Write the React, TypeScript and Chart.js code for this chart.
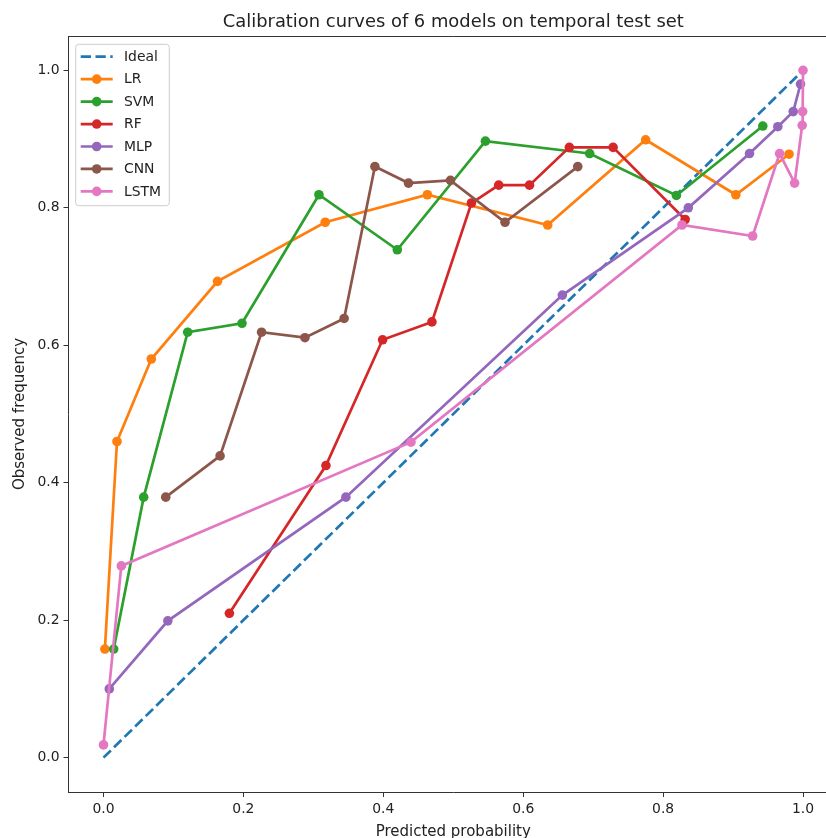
import React, { useEffect, useRef } from 'react';
import { Chart, registerables } from 'chart.js';

Chart.register(...registerables);

const chartTitle = 'Calibration curves of 6 models on temporal test set';
const xAxisLabel = 'Predicted probability';
const yAxisLabel = 'Observed frequency';

const idealX = [0, 1];
const idealY = [0, 1];

const lrX = [0.002, 0.0193, 0.0684, 0.163, 0.317, 0.463, 0.635, 0.775, 0.904, 0.98];
const lrY = [0.158, 0.46, 0.58, 0.693, 0.779, 0.819, 0.775, 0.899, 0.819, 0.878];

const svmX = [0.0146, 0.0575, 0.1204, 0.198, 0.308, 0.42, 0.546, 0.695, 0.819, 0.9425];
const svmY = [0.158, 0.379, 0.619, 0.632, 0.819, 0.739, 0.897, 0.879, 0.818, 0.919];

const rfX = [0.18, 0.318, 0.399, 0.4695, 0.526, 0.565, 0.609, 0.666, 0.7285, 0.8315];
const rfY = [0.21, 0.425, 0.608, 0.634, 0.807, 0.833, 0.833, 0.888, 0.888, 0.783];

const mlpX = [0.0083, 0.092, 0.3465, 0.656, 0.836, 0.9235, 0.964, 0.986, 0.9964];
const mlpY = [0.1, 0.199, 0.379, 0.673, 0.8, 0.879, 0.918, 0.94, 0.98];

const cnnX = [0.089, 0.1667, 0.226, 0.288, 0.344, 0.388, 0.436, 0.496, 0.574, 0.678];
const cnnY = [0.379, 0.439, 0.619, 0.611, 0.639, 0.86, 0.836, 0.84, 0.779, 0.86];

const lstmX = [0.0, 0.0255, 0.4395, 0.827, 0.928, 0.9665, 0.988, 0.9988, 0.9995, 1.0];
const lstmY = [0.0185, 0.279, 0.459, 0.775, 0.759, 0.879, 0.836, 0.92, 0.94, 1.0];

const xTicks = [0, 0.2, 0.4, 0.6, 0.8, 1.0];
const yTicks = [0, 0.2, 0.4, 0.6, 0.8, 1.0];

const legendNames = ['Ideal', 'LR', 'SVM', 'RF', 'MLP', 'CNN', 'LSTM'];
const colors = ['#1f77b4', '#ff7f0e', '#2ca02c', '#d62728', '#9467bd', '#8c564b', '#e377c2'];

const zip = (xs: number[], ys: number[]) => xs.map((x, i) => ({ x, y: ys[i] }));

const FONT = '"DejaVu Sans", sans-serif';
const LW = 2.7;
const PR = 4.8;
const CANVAS_W = 880;
const CANVAS_H = 838;

const decorations = {
  id: 'decorations',
  afterDraw(chart: any) {
    const { ctx, chartArea, scales } = chart;
    const xs = scales.x;
    const cx = xs.getPixelForValue(0.5);
    ctx.save();
    // top and right spines
    ctx.strokeStyle = '#333';
    ctx.lineWidth = 1;
    ctx.beginPath();
    ctx.moveTo(chartArea.left, chartArea.top + 0.5);
    ctx.lineTo(chartArea.right, chartArea.top + 0.5);
    ctx.lineTo(chartArea.right, chartArea.bottom);
    ctx.stroke();

    ctx.fillStyle = '#222';
    ctx.textAlign = 'center';
    ctx.textBaseline = 'middle';
    ctx.font = `17.9px ${FONT}`;
    ctx.fillText(chartTitle, cx, 22);

    ctx.font = `15px ${FONT}`;
    ctx.textBaseline = 'alphabetic';
    ctx.fillText(xAxisLabel, cx, 836);

    ctx.save();
    ctx.translate(20, (chartArea.top + chartArea.bottom) / 2);
    ctx.rotate(-Math.PI / 2);
    ctx.textBaseline = 'middle';
    ctx.fillText(yAxisLabel, 0, 0);
    ctx.restore();

    // legend
    const bx = 75.7, by = 44.3, bw = 93.6, bh = 161.4;
    ctx.beginPath();
    (ctx as any).roundRect(bx, by, bw, bh, 3);
    ctx.fillStyle = 'rgba(255,255,255,0.8)';
    ctx.fill();
    ctx.strokeStyle = '#cccccc';
    ctx.lineWidth = 1;
    ctx.stroke();

    ctx.font = `13.9px ${FONT}`;
    ctx.textAlign = 'left';
    ctx.textBaseline = 'middle';
    legendNames.forEach((name, i) => {
      const y = 56.7 + i * 22.45;
      ctx.strokeStyle = colors[i];
      ctx.lineWidth = LW;
      ctx.setLineDash(i === 0 ? [10.3, 4.5] : []);
      ctx.beginPath();
      ctx.moveTo(80.7, y);
      ctx.lineTo(112.7, y);
      ctx.stroke();
      ctx.setLineDash([]);
      if (i > 0) {
        ctx.fillStyle = colors[i];
        ctx.beginPath();
        ctx.arc(96.7, y, PR, 0, Math.PI * 2);
        ctx.fill();
      }
      ctx.fillStyle = '#222';
      ctx.fillText(name, 124, y + 0.5);
    });
    ctx.restore();
  },
};

export default function App() {
  const ref = useRef<HTMLCanvasElement | null>(null);

  useEffect(() => {
    if (!ref.current) return;
    const series = [
      { label: 'LR', data: zip(lrX, lrY) },
      { label: 'SVM', data: zip(svmX, svmY) },
      { label: 'RF', data: zip(rfX, rfY) },
      { label: 'MLP', data: zip(mlpX, mlpY) },
      { label: 'CNN', data: zip(cnnX, cnnY) },
      { label: 'LSTM', data: zip(lstmX, lstmY) },
    ];
    const datasets: any[] = [
      {
        label: 'Ideal',
        data: zip(idealX, idealY),
        showLine: true,
        borderColor: colors[0],
        backgroundColor: colors[0],
        borderWidth: LW,
        borderDash: [10.3, 4.5],
        pointRadius: 0,
        pointHoverRadius: 0,
        order: 10,
      },
      ...series.map((s, i) => ({
        label: s.label,
        data: s.data,
        showLine: true,
        tension: 0,
        borderColor: colors[i + 1],
        backgroundColor: colors[i + 1],
        pointBackgroundColor: colors[i + 1],
        pointBorderWidth: 0,
        borderWidth: LW,
        pointRadius: PR,
        pointHoverRadius: PR,
        order: 9 - i,
      })),
    ];

    const axisCommon = (ticks: number[]) => ({
      type: 'linear' as const,
      afterBuildTicks: (scale: any) => {
        scale.ticks = ticks.map((v) => ({ value: v }));
      },
      ticks: {
        callback: (v: any) => Number(v).toFixed(1),
        color: '#222',
        font: { family: FONT, size: 13.9 },
        padding: 4,
        autoSkip: false,
        maxRotation: 0,
      },
      grid: {
        display: true,
        drawOnChartArea: false,
        drawTicks: true,
        tickLength: 5,
        tickWidth: 1,
        tickColor: '#333',
      },
      border: { display: true, color: '#333', width: 1 },
    });

    const chart = new Chart(ref.current, {
      type: 'scatter',
      data: { datasets },
      options: {
        animation: false,
        responsive: false,
        devicePixelRatio: 1,
        layout: { padding: { top: 36, left: 0, right: CANVAS_W - 838, bottom: 0 } },
        plugins: {
          legend: { display: false },
          title: { display: false },
          tooltip: { enabled: false },
        },
        scales: {
          x: {
            ...axisCommon(xTicks),
            min: -0.05,
            max: 1.05,
            afterFit: (scale: any) => {
              scale.height = 46;
            },
          },
          y: {
            ...axisCommon(yTicks),
            min: -0.05,
            max: 1.05,
            afterFit: (scale: any) => {
              scale.width = 68.5;
            },
          },
        },
      } as any,
      plugins: [decorations],
    });
    return () => chart.destroy();
  }, []);

  return (
    <div style={{ position: 'absolute', left: 0, top: 0, width: 826, height: 838, overflow: 'hidden', background: '#fff' }}>
      <canvas ref={ref} width={CANVAS_W} height={CANVAS_H} style={{ width: CANVAS_W, height: CANVAS_H, display: 'block' }} />
    </div>
  );
}
